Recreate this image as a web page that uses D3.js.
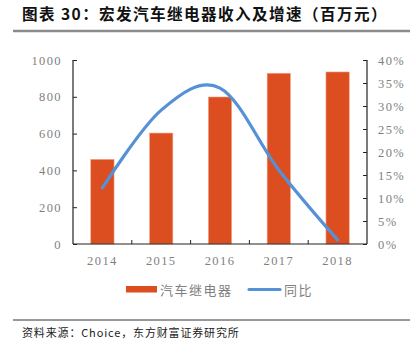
<!DOCTYPE html>
<html><head><meta charset="utf-8">
<script src="https://cdn.jsdelivr.net/npm/d3@7"></script>
<style>
body{margin:0;background:#fff;}
svg{display:block;}
</style></head>
<body>
<svg id="c" width="416" height="357"></svg>
<script>
const years = ["2014","2015","2016","2017","2018"];
const revenue = [460, 603, 799, 928, 935];
const growth = [0.122, 0.291, 0.339, 0.161, 0.009];
const leftTicks = [0,200,400,600,800,1000];
const rightTicks = [0,0.05,0.10,0.15,0.20,0.25,0.30,0.35,0.40];
const seriesNames = ["汽车继电器","同比"];
const titleText = "图表 30：宏发汽车继电器收入及增速（百万元）";
const sourceText = "资料来源：Choice，东方财富证券研究所";

const svg = d3.select("#c");
const L = 73, R = 367, T = 60, B = 244;
const barColor = "#DC4E1F", lineColor = "#5591D6";
const axisFont = "'Liberation Serif','Times New Roman',serif";
const cjk = "'Noto Sans CJK SC',sans-serif";

// title
svg.append("text").attr("x",22).attr("y",20).attr("font-family",cjk).attr("font-weight","bold")
  .attr("font-size",15.6).attr("fill","#111").attr("letter-spacing","1.4px").text(titleText);
svg.append("line").attr("x1",13).attr("x2",410).attr("y1",31).attr("y2",31)
  .attr("stroke","#8c8c8c").attr("stroke-width",2.5);

const x = d3.scaleBand().domain(years).range([L,R]).paddingInner(0).paddingOuter(0);
const yL = d3.scaleLinear().domain([0,1000]).range([B,T]);
const yR = d3.scaleLinear().domain([0,0.40]).range([B,T]);

// bars
const bw = 23.3;
svg.append("g").selectAll("rect").data(revenue).join("rect")
  .attr("x",(d,i)=>x(years[i])+x.bandwidth()/2-bw/2)
  .attr("y",d=>yL(d)).attr("width",bw).attr("height",d=>B-yL(d))
  .attr("fill",barColor).attr("stroke","#f2a78a").attr("stroke-width",0.6);

// axes
const gL = svg.append("g").attr("transform",`translate(${L},0)`)
  .call(d3.axisLeft(yL).tickValues(leftTicks).tickSize(-4).tickPadding(11).tickFormat(d3.format("d")));
const gR = svg.append("g").attr("transform",`translate(${R},0)`)
  .call(d3.axisRight(yR).tickValues(rightTicks).tickSize(-4).tickPadding(11).tickFormat(d=>Math.round(d*100)+"%"));
const gX = svg.append("g").attr("transform",`translate(0,${B})`)
  .call(d3.axisBottom(x).tickSize(0).tickPadding(12));
// category boundary ticks
svg.append("g").selectAll("line").data(years.slice(1)).join("line")
  .attr("x1",d=>x(d)).attr("x2",d=>x(d)).attr("y1",B).attr("y2",B-4)
  .attr("stroke","#222").attr("stroke-width",1);

[gL,gR,gX].forEach(g=>{
  g.selectAll(".domain").attr("stroke","#222").attr("stroke-width",1.2);
  g.selectAll(".tick line").attr("stroke","#222").attr("stroke-width",1);
  g.selectAll("text").attr("font-family",axisFont).attr("font-size",12.5)
    .attr("fill","#7f7f7f").attr("letter-spacing","1.4px");
});
gL.select(".domain").attr("d",`M0,${T}H0V${B}H0`);
gR.select(".domain").attr("d",`M0,${T}H0V${B}H0`);
gX.select(".domain").attr("d",`M${L},0H${R}`);

// line
const line = d3.line().x((d,i)=>x(years[i])+x.bandwidth()/2).y(d=>yR(d))
  .curve(d3.curveCardinal.tension(0));
svg.append("path").datum(growth).attr("d",line).attr("fill","none")
  .attr("stroke",lineColor).attr("stroke-width",3.2).attr("stroke-linecap","round");

// legend
const lg = svg.append("g");
lg.append("rect").attr("x",126).attr("y",286).attr("width",31).attr("height",6.5).attr("fill",barColor);
lg.append("text").attr("x",160).attr("y",294.5).attr("font-family",cjk).attr("font-size",13)
  .attr("fill","#7f7f7f").attr("letter-spacing","1.5px").text(seriesNames[0]);
lg.append("line").attr("x1",249).attr("x2",280).attr("y1",289.5).attr("y2",289.5)
  .attr("stroke",lineColor).attr("stroke-width",3.2).attr("stroke-linecap","round");
lg.append("text").attr("x",284).attr("y",294.5).attr("font-family",cjk).attr("font-size",13)
  .attr("fill","#7f7f7f").attr("letter-spacing","1.5px").text(seriesNames[1]);

// source
svg.append("line").attr("x1",13).attr("x2",410).attr("y1",320).attr("y2",320)
  .attr("stroke","#333").attr("stroke-width",1);
svg.append("text").attr("x",22).attr("y",337).attr("font-family",cjk).attr("font-size",11)
  .attr("fill","#222").attr("letter-spacing","0.85px").text(sourceText);
</script>
</body></html>
